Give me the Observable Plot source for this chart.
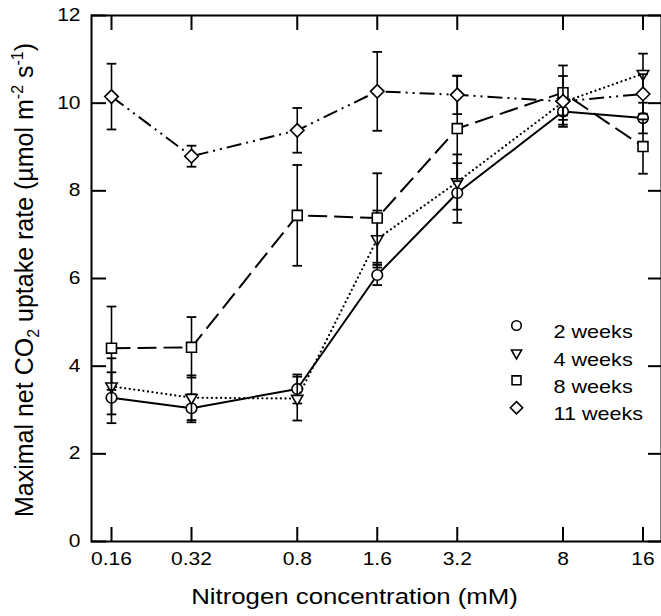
<!DOCTYPE html>
<html><head><meta charset="utf-8">
<script src="https://cdn.jsdelivr.net/npm/d3@7"></script>
<script src="https://cdn.jsdelivr.net/npm/@observablehq/plot@0.6"></script>
<style>
html,body{margin:0;padding:0;background:#fff;overflow:hidden}
#chart svg{overflow:hidden;display:block}
</style></head><body><div id="chart"></div>
<script>
// ---- data ----
const concentrations = [0.16, 0.32, 0.8, 1.6, 3.2, 8, 16];
const tickLabels = ["0.16", "0.32", "0.8", "1.6", "3.2", "8", "16"];
const yTicks = [0, 2, 4, 6, 8, 10, 12];
const seriesNames = ["2 weeks", "4 weeks", "8 weeks", "11 weeks"];
const weeks2    = [3.28, 3.04, 3.48, 6.08, 7.95, 9.81, 9.66];
const weeks2Err = [0.58, 0.32, 0.33, 0.23, 0.68, 0.30, 0.35];
const weeks4    = [3.54, 3.28, 3.26, 6.90, 8.20, 10.02, 10.67];
const weeks4Err = [0.64, 0.51, 0.50, 0.65, 0.63, 0.30, 0.46];
const weeks8    = [4.41, 4.43, 7.44, 7.38, 9.42, 10.24, 9.01];
const weeks8Err = [0.95, 0.69, 1.15, 1.02, 1.20, 0.62, 0.62];
const weeks11    = [10.15, 8.79, 9.38, 10.27, 10.19, 10.04, 10.21];
const weeks11Err = [0.75, 0.24, 0.51, 0.90, 0.44, 0.58, 0.45];

const values = [weeks2, weeks4, weeks8, weeks11];
const errors = [weeks2Err, weeks4Err, weeks8Err, weeks11Err];

// ---- styles ----
const symbols = ["circle", "triangle", "square", "diamond2"];
const rotations = [0, 180, 0, 0];
const radii = [5.3, 4.2, 5.6, 6.1];
const dashes = [null, "0,4.6", "19,7", "15,5,2,5,2,5"];
const caps = ["butt", "round", "butt", "butt"];
const widths = [2, 2.3, 2, 2];
const capSymbol = {draw(ctx) { ctx.moveTo(-4.8, 0); ctx.lineTo(4.8, 0); }};
const font = "Liberation Sans, Arial, Helvetica, sans-serif";
const stretch = 1.2;

const xLabelData = concentrations.map((c, i) => ({x: c, label: tickLabels[i]}));

const marks = [];
seriesNames.forEach((name, i) => {
  const data = concentrations.map((c, j) => ({
    x: c, y: values[i][j], lo: values[i][j] - errors[i][j], hi: values[i][j] + errors[i][j]
  }));
  marks.push(
    Plot.ruleX(data, {x: "x", y1: "lo", y2: "hi", stroke: "black", strokeWidth: 1.6}),
    Plot.dot(data, {x: "x", y: "lo", symbol: capSymbol, fill: "none", stroke: "black", strokeWidth: 1.8}),
    Plot.dot(data, {x: "x", y: "hi", symbol: capSymbol, fill: "none", stroke: "black", strokeWidth: 1.8}),
    Plot.line(data, {x: "x", y: "y", stroke: "black", strokeWidth: widths[i],
      strokeDasharray: dashes[i], strokeLinecap: caps[i]}),
    Plot.dot(data, {x: "x", y: "y", symbol: symbols[i], r: radii[i], rotate: rotations[i],
      fill: "white", stroke: "black", strokeWidth: 1.6}),
    // legend entry
    Plot.dot([name], {frameAnchor: "top-left", dx: 425, dy: 310 + i * 27.4, symbol: symbols[i],
      r: radii[i] * 0.9, rotate: rotations[i], fill: "white", stroke: "black", strokeWidth: 1.6}),
    Plot.text([name], {frameAnchor: "top-left", dx: 462, dy: 310 + i * 27.4, text: d => d,
      textAnchor: "start", fontSize: 18, fill: "black"})
  );
});

const chart = Plot.plot({
  width: 661,
  height: 616,
  marginLeft: 91,
  marginTop: 15,
  marginBottom: 75,
  marginRight: 0,
  style: {fontFamily: font, fontSize: "17px", color: "black", background: "white"},
  x: {type: "log", domain: [0.16 * Math.pow(2, -0.25), 16 * Math.pow(2, 27 / 80)], range: [91, 669.5]},
  y: {domain: [0, 12], range: [541, 15]},
  marks: [
    Plot.axisY(yTicks, {anchor: "left", tickSize: -15, tickPadding: 26, strokeWidth: 2,
      fontSize: 17.5, label: null, tickFormat: d => String(d)}),
    Plot.axisY(yTicks, {anchor: "right", tickSize: -14, strokeWidth: 2, label: null, tickFormat: () => ""}),
    Plot.axisX(concentrations, {anchor: "bottom", tickSize: -14, strokeWidth: 2, label: null, tickFormat: () => ""}),
    Plot.axisX(concentrations, {anchor: "top", tickSize: -14, strokeWidth: 2, label: null, tickFormat: () => ""}),
    Plot.text(xLabelData, {x: "x", text: "label", frameAnchor: "bottom", dy: 23, fontSize: 17.5, fill: "black"}),
    Plot.frame({stroke: "black", strokeWidth: 2}),
    ...marks,
    Plot.text(["Nitrogen concentration (mM)"], {frameAnchor: "bottom-left", dx: 263, dy: 62,
      text: d => d, fontSize: 21.5, textAnchor: "middle", fill: "black"})
  ]
});
document.getElementById("chart").appendChild(chart);

const svgNode = chart.tagName.toLowerCase() === "svg" ? chart : chart.querySelector("svg");
// the reference's lettering is slightly wide: stretch horizontal text about its anchor
svgNode.querySelectorAll("text").forEach(el => {
  const tr = el.getAttribute("transform");
  if (tr) el.setAttribute("transform", tr + ` scale(${stretch},1)`);
  else {
    const x = +(el.getAttribute("x") || 0), y = +(el.getAttribute("y") || 0);
    el.setAttribute("transform", `translate(${x},${y}) scale(${stretch},1) translate(${-x},${-y})`);
  }
});

// y-axis title with sub/superscripts
const svg = d3.select(svgNode);
const t = svg.append("text")
  .attr("transform", "translate(33,280) rotate(-90)")
  .attr("text-anchor", "middle")
  .attr("font-family", font)
  .attr("font-size", 25)
  .attr("fill", "black");
t.append("tspan").text("Maximal net CO");
t.append("tspan").attr("font-size", 16).attr("dy", 6).text("2");
t.append("tspan").attr("dy", -6).text(" uptake rate (µmol m");
t.append("tspan").attr("font-size", 16).attr("dy", -10).text("-2");
t.append("tspan").attr("dy", 10).text(" s");
t.append("tspan").attr("font-size", 16).attr("dy", -10).text("-1");
t.append("tspan").attr("dy", 10).text(")");
</script></body></html>
